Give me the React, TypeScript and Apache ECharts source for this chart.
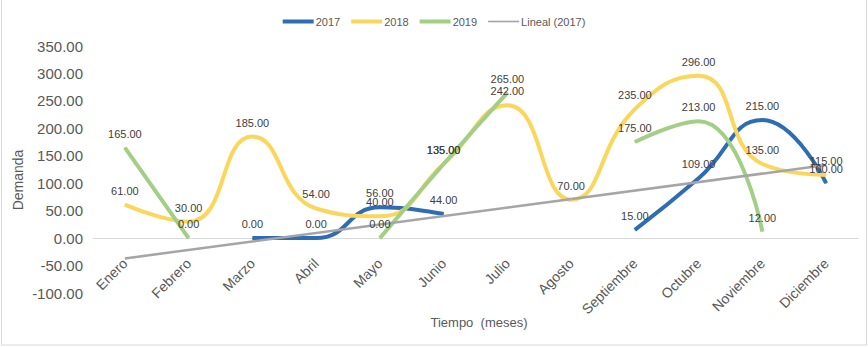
import React, { useEffect, useRef } from "react";
import * as echarts from "echarts";

const months = ["Enero", "Febrero", "Marzo", "Abril", "Mayo", "Junio", "Julio", "Agosto", "Septiembre", "Octubre", "Noviembre", "Diciembre"];
const demand2017: (number | null)[] = [null, null, 0, 0, 56, 44, null, null, 15, 109, 215, 100];
const demand2018: (number | null)[] = [61, 30, 185, 54, 40, 135, 242, 70, 235, 296, 135, 115];
const demand2019: (number | null)[] = [165, 0, null, null, 0, 135, 265, null, 175, 213, 12, null];
const trend2017: (number | null)[] = [-37, null, null, null, null, null, null, null, null, null, null, 133];
const yTicks = { min: -100, max: 350, interval: 50 };

const FONT = "Liberation Sans, Arial, sans-serif";
const TXT = "#595959";

export default function App() {
  const ref = useRef<HTMLDivElement>(null);
  useEffect(() => {
    if (!ref.current) return;
    const chart = echarts.init(ref.current, undefined, { renderer: "svg" });
    const labelCfg = {
      show: true,
      position: "top",
      distance: 8,
      fontSize: 11,
      fontFamily: FONT,
      color: "#404040",
      formatter: (p: any) => (p.value == null ? "" : Number(p.value).toFixed(2)),
    };
    const mk = (name: string, data: (number | null)[], color: string) => ({
      name,
      type: "line",
      data,
      smooth: 0.5,
      symbol: "circle",
      symbolSize: 1,
      showSymbol: true,
      itemStyle: { color },
      lineStyle: { color, width: 4 },
      label: labelCfg,
      emphasis: { disabled: true },
    });
    chart.setOption({
      animation: false,
      textStyle: { fontFamily: FONT },
      color: ["#2E6DB4", "#FAD75C", "#A3CE85", "#A5A5A5"],
      legend: {
        top: 11,
        left: "center",
        itemWidth: 31,
        itemHeight: 4,
        itemGap: 11,
        itemStyle: { borderWidth: 0 },
        textStyle: { fontSize: 11, color: TXT, fontFamily: FONT, padding: [0, 0, 0, -3] },
        data: [
          { name: "2017", icon: "rect" },
          { name: "2018", icon: "rect" },
          { name: "2019", icon: "rect" },
          { name: "Lineal (2017)", icon: "path://M0,0H30V1.6H0Z" },
        ],
      },
      grid: { left: 93, right: 10, top: 46, bottom: 54, containLabel: false, outerBoundsMode: "none" },
      xAxis: {
        type: "category",
        data: months,
        boundaryGap: true,
        axisLine: { onZero: true, lineStyle: { color: "#D9D9D9", width: 1 } },
        axisTick: { show: false },
        axisLabel: { rotate: 45, fontSize: 14, color: TXT, fontFamily: FONT, margin: -32, interval: 0 },
      },
      yAxis: {
        type: "value",
        min: yTicks.min,
        max: yTicks.max,
        interval: yTicks.interval,
        splitLine: { show: false },
        axisLine: { show: false },
        axisTick: { show: false },
        axisLabel: {
          fontSize: 15,
          color: TXT,
          fontFamily: FONT,
          margin: 10,
          formatter: (v: number) => v.toFixed(2),
        },
      },
      graphic: [
        {
          type: "rect",
          shape: { x: 1.5, y: -5, width: 865, height: 350 },
          style: { fill: "none", stroke: "#D9D9D9", lineWidth: 1 },
          silent: true,
          z: -10,
        },
        {
          type: "text",
          x: 18,
          y: 180,
          rotation: Math.PI / 2,
          style: { text: "Demanda", fontSize: 14, fill: TXT, fontFamily: FONT, align: "center", verticalAlign: "middle" },
        },
        {
          type: "text",
          x: 479,
          y: 322,
          style: { text: "Tiempo  (meses)", fontSize: 13, fill: TXT, fontFamily: FONT, align: "center", verticalAlign: "middle" },
        },
      ],
      series: [
        mk("2017", demand2017, "#2E6DB4"),
        mk("2018", demand2018, "#FAD75C"),
        mk("2019", demand2019, "#A3CE85"),
        {
          name: "Lineal (2017)",
          type: "line",
          data: trend2017,
          connectNulls: true,
          symbol: "none",
          smooth: false,
          lineStyle: { color: "#A5A5A5", width: 2.5 },
          itemStyle: { color: "#A5A5A5" },
          emphasis: { disabled: true },
          z: 3,
        },
      ],
    });
    return () => chart.dispose();
  }, []);
  return <div ref={ref} style={{ position: "fixed", left: 0, top: 0, width: 868, height: 347, background: "#fff" }} />;
}
